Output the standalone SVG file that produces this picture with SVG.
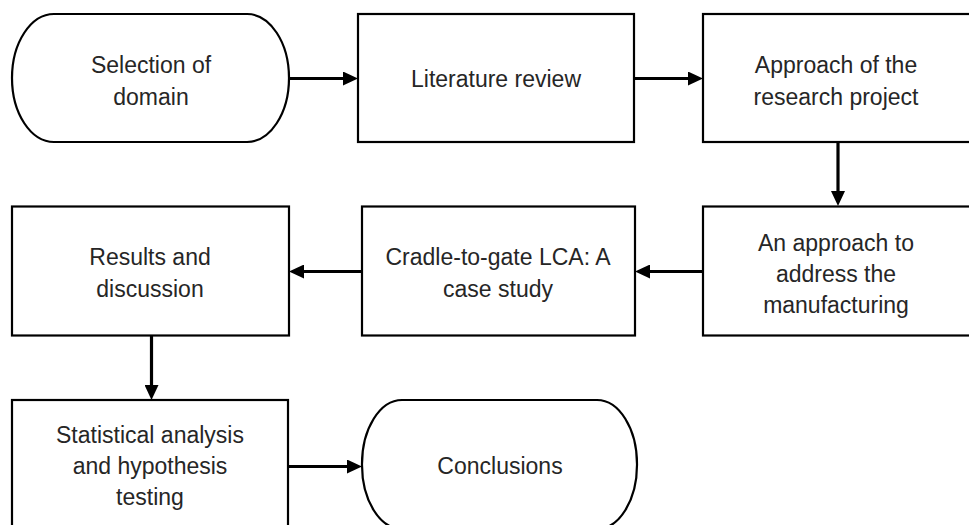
<svg xmlns="http://www.w3.org/2000/svg" width="969" height="525" viewBox="0 0 969 525">
<style>
.box{fill:#fff;stroke:#000;stroke-width:2.2}
.conn{fill:none;stroke:#000;stroke-width:3.2}
text{font-family:"Liberation Sans",Arial,sans-serif;font-size:23px;fill:#262626;text-anchor:middle}
</style>
<defs>
<marker id="ah" viewBox="0 -7 15 14" markerWidth="15" markerHeight="14" refX="0" refY="0" orient="auto" markerUnits="userSpaceOnUse">
<path d="M0,-7 L15,0 L0,7 z" fill="#000"/>
</marker>
</defs>
<rect width="969" height="525" fill="#fff"/>
<g id="connectors">
<path class="conn" d="M289,78.5 H343" marker-end="url(#ah)"/>
<path class="conn" d="M634,78.5 H688" marker-end="url(#ah)"/>
<path class="conn" d="M838,142 V191" marker-end="url(#ah)"/>
<path class="conn" d="M703,271.5 H650" marker-end="url(#ah)"/>
<path class="conn" d="M362,271.5 H304" marker-end="url(#ah)"/>
<path class="conn" d="M151.5,335.5 V385" marker-end="url(#ah)"/>
<path class="conn" d="M288,466.5 H347" marker-end="url(#ah)"/>
</g>
<g id="selection">
<rect class="box" x="12" y="14" width="277" height="128" rx="42" ry="64"/>
<text x="151" y="73">Selection of</text>
<text x="151" y="105">domain</text>
</g>
<g id="literature">
<rect class="box" x="358" y="14" width="276" height="128"/>
<text x="496" y="87">Literature review</text>
</g>
<g id="approach">
<rect class="box" x="703" y="14" width="280" height="128"/>
<text x="836" y="73">Approach of the</text>
<text x="836" y="105">research project</text>
</g>
<g id="address">
<rect class="box" x="703" y="206.5" width="280" height="129"/>
<text x="836" y="251">An approach to</text>
<text x="836" y="282">address the</text>
<text x="836" y="313">manufacturing</text>
</g>
<g id="cradle">
<rect class="box" x="362" y="206.5" width="273" height="129"/>
<text x="498" y="265">Cradle-to-gate LCA: A</text>
<text x="498" y="297">case study</text>
</g>
<g id="results">
<rect class="box" x="12" y="206.5" width="277" height="129"/>
<text x="150" y="265">Results and</text>
<text x="150" y="297">discussion</text>
</g>
<g id="statistical">
<rect class="box" x="12" y="400" width="276" height="140"/>
<text x="150" y="443">Statistical analysis</text>
<text x="150" y="474">and hypothesis</text>
<text x="150" y="505">testing</text>
</g>
<g id="conclusions">
<rect class="box" x="362" y="400" width="275" height="129" rx="40" ry="64"/>
<text x="500" y="474">Conclusions</text>
</g>
</svg>
